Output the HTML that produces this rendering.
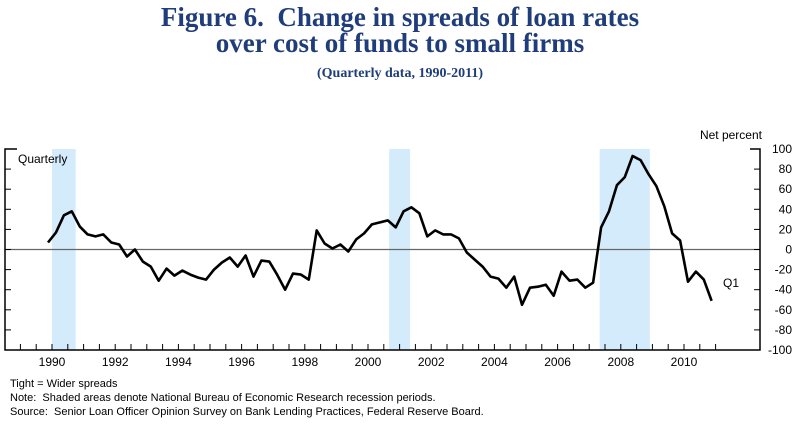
<!DOCTYPE html>
<html><head><meta charset="utf-8"><style>
body{margin:0;background:#fff;width:800px;height:428px;overflow:hidden;font-family:"Liberation Sans",sans-serif}
.t{position:absolute;left:0;width:800px;text-align:center;font-family:"Liberation Serif",serif;font-weight:bold;color:#1f3d7a}
.n{position:absolute;left:10px;font-size:11px;color:#000}
</style></head><body>
<div class="t" style="top:4px;font-size:27px;line-height:26px">Figure 6.&nbsp; Change in spreads of loan rates<br>over cost of funds to small firms</div>
<div class="t" style="top:66px;font-size:14px">(Quarterly data, 1990-2011)</div>
<svg id="c" width="800" height="428" style="position:absolute;left:0;top:0"></svg>
<div class="n" style="top:378px">Tight = Wider spreads</div>
<div class="n" style="top:392px">Note:&nbsp; Shaded areas denote National Bureau of Economic Research recession periods.</div>
<div class="n" style="top:406px">Source:&nbsp; Senior Loan Officer Opinion Survey on Bank Lending Practices, Federal Reserve Board.</div>
<script>
const startYear = 1990.375;
const values = [7,17,34,38,23,15,13,15,7,5,-7,0,-12,-17,-31,-19,-26,-21,-25,-28,-30,
-20,-13,-8,-17,-6,-27,-11,-12,-25,-40,-24,-25,-30,
19,6,1,5,-2,10,16,25,27,29,22,38,42,
36,13,19,15,15,11,-3,-10,-17,-27,-29,-38,-27,-55,-38,-37,-35,-46,-22,-31,-30,-38,-33,
22,38,64,72,93,89,75,63,43,16,9,-32,-22,-30,-51];
const recStart = [1990.5, 2001.17, 2007.83];
const recEnd = [1991.25, 2001.83, 2009.42];
const yTicks = [100,80,60,40,20,0,-20,-40,-60,-80,-100];
const xLabels = [1990,1992,1994,1996,1998,2000,2002,2004,2006,2008,2010];
const X = t => 52 + 31.6*(t-1990.5);
const Y = v => 249.5 - v*1.005;
const svg = document.getElementById('c');
const NS = 'http://www.w3.org/2000/svg';
function mk(tag, attrs){const e=document.createElementNS(NS,tag);for(const k in attrs)e.setAttribute(k,attrs[k]);svg.appendChild(e);return e;}
recStart.forEach((s,i)=>{
  const r=mk('rect',{x:X(s),y:149,width:X(recEnd[i])-X(s),height:201,fill:'#d4ebfb'});
  
  
});
const z=mk('line',{x1:5,x2:760,y1:Y(0),y2:Y(0),stroke:'#666','stroke-width':1.2});


const ax=mk('path',{d:'M17 149H5V350H760V149H750',fill:'none',stroke:'#000','stroke-width':1.5});


yTicks.forEach(v=>{
  mk('line',{x1:5,x2:11,y1:Y(v),y2:Y(v),stroke:'#000'});
  mk('line',{x1:754,x2:760,y1:Y(v),y2:Y(v),stroke:'#000'});
  const t=mk('text',{x:792,y:Y(v)+4,'text-anchor':'end','font-size':12,'font-family':'Liberation Sans, sans-serif'});
  t.textContent=v;
  
  
});
for(let yr=1989.5; yr<=2011.6; yr+=0.5){
  mk('line',{x1:X(yr),x2:X(yr),y1:344,y2:350,stroke:'#000'});
}
xLabels.forEach(yr=>{
  const t=mk('text',{x:X(yr+0.5),y:366,'text-anchor':'middle','font-size':12,'font-family':'Liberation Sans, sans-serif'});
  t.textContent=yr;
  
  
});
const pts=values.map((v,i)=>X(startYear+i*0.25).toFixed(1)+','+Y(v).toFixed(1)).join(' ');
const l=mk('polyline',{points:pts,fill:'none',stroke:'#000','stroke-width':2.6,'stroke-linejoin':'round'});


[['Net percent',762,139,'end','y-axis-title'],['Quarterly',18,163,'start','series-label'],['Q1',723,287,'start','last-point-label']].forEach(a=>{
  const t=mk('text',{x:a[1],y:a[2],'text-anchor':a[3],'font-size':12,'font-family':'Liberation Sans, sans-serif'});
  t.textContent=a[0];
  
  
});
</script>
</body></html>
